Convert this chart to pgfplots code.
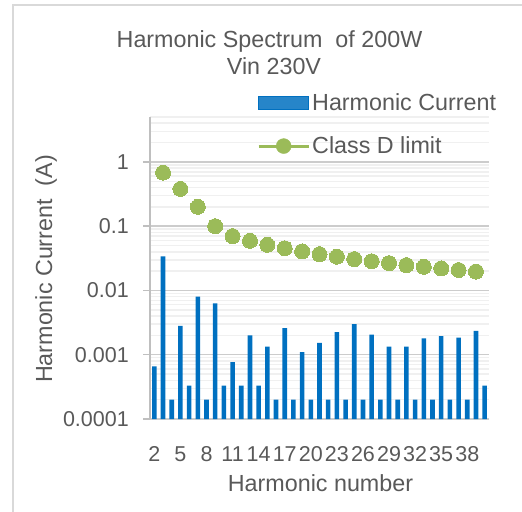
\documentclass[border=0pt]{standalone}
\usepackage{pgfplots}
\pgfplotsset{compat=1.18}
\usepackage{fontspec}
\setmainfont{Liberation Sans}
\definecolor{barblue}{HTML}{0070C0}
\definecolor{limgreen}{HTML}{9BBB59}
\definecolor{txt}{HTML}{595959}
\definecolor{frame}{HTML}{D9D9D9}
\pgfplotstableread{
h v
2 0.00066
3 0.034
4 0.0002
5 0.0028
6 0.00033
7 0.0080
8 0.0002
9 0.0063
10 0.00033
11 0.00077
12 0.00033
13 0.0020
14 0.00033
15 0.00134
16 0.0002
17 0.0026
18 0.0002
19 0.0011
20 0.0002
21 0.00153
22 0.0002
23 0.00225
24 0.0002
25 0.0030
26 0.0002
27 0.00205
28 0.0002
29 0.00134
30 0.0002
31 0.00134
32 0.0002
33 0.0018
34 0.0002
35 0.00195
36 0.0002
37 0.00185
38 0.0002
39 0.00236
40 0.00033
}\harm
\pgfplotstableread{
h v
3 0.68
5 0.38
7 0.20
9 0.10
11 0.07
13 0.0592
15 0.0513
17 0.0453
19 0.0405
21 0.0367
23 0.0335
25 0.0308
27 0.0285
29 0.0266
31 0.0248
33 0.0233
35 0.0220
37 0.0208
39 0.0197
}\limit
\begin{document}
\begin{tikzpicture}
\path[use as bounding box] (0bp,0bp) rectangle (522bp,512bp);
\draw[frame, line width=1.5bp] (13bp,0bp) -- (13bp,507bp) -- (522bp,507bp);
\tikzset{lab/.style={text=txt, inner sep=0pt, font=\fontsize{23.3bp}{28bp}\selectfont}}
\node[lab, anchor=base] at (269.5bp,464bp) {Harmonic Spectrum\ \ of 200W};
\node[lab, anchor=base] at (274bp,437bp) {Vin 230V};
\node[lab, anchor=base, rotate=90] at (52bp,243bp) {Harmonic Current\ \ (A)};
\node[lab, anchor=base] at (320.5bp,20.3bp) {Harmonic number};
\begin{axis}[
  at={(150bp,93bp)}, anchor=south west,
  scale only axis, width=339bp, height=302bp,
  ymode=log, ymin=1e-4, ymax=5, log origin y=infty,
  xmin=1.5, xmax=40.5,
  xtick={2,5,8,11,14,17,20,23,26,29,32,35,38},
  xticklabels={2,5,8,11,14,17,20,23,26,29,32,35,38},
  ytick={1e-4,1e-3,1e-2,1e-1,1},
  yticklabels={0.0001,0.001,0.01,0.1,1},
  minor ytick={2e-4,3e-4,4e-4,5e-4,6e-4,7e-4,8e-4,9e-4,
    2e-3,3e-3,4e-3,5e-3,6e-3,7e-3,8e-3,9e-3,
    2e-2,3e-2,4e-2,5e-2,6e-2,7e-2,8e-2,9e-2,
    0.2,0.3,0.4,0.5,0.6,0.7,0.8,0.9,2,3,4,5},
  ymajorgrids, yminorgrids,
  major grid style={color=gray!40, line width=1.5bp},
  minor grid style={color=gray!12, line width=1.5bp},
  axis x line*=bottom, axis y line*=left,
  x axis line style={draw=none},
  y axis line style={color=gray!50, line width=1.5bp},
  tick align=outside,
  major tick length=7bp, minor tick length=0pt,
  xtick style={draw=none},
  ytick style={color=gray!50, line width=1.5bp},
  ticklabel style={text=txt, font=\fontsize{21.5bp}{25bp}\selectfont},
  xticklabel style={anchor=base, yshift=-36bp},
  yticklabel style={anchor=east, inner sep=0pt, xshift=-14bp},
  clip=false,
  legend style={draw=none, fill=none, at={(axis description cs:0.3156,1.085)}, anchor=north west,
    font=\fontsize{23.3bp}{28bp}\selectfont, text=txt, row sep=21bp, inner sep=0pt},
  legend cell align=left,
]
\addplot[ybar, bar width=4.6bp, fill=barblue, draw=none,
  legend image code/.code={\draw[fill=barblue!85!white, draw=barblue, line width=1bp] (0bp,-6.5bp) rectangle (50bp,6.5bp);}]
  table[x=h, y=v] {\harm};
\addlegendentry{Harmonic Current}
\addplot[only marks, mark=*, mark size=7.5bp, mark options={fill=limgreen, draw=limgreen, line width=0pt},
  legend image code/.code={\draw[limgreen, line width=3bp] (0bp,0bp) -- (50bp,0bp); \fill[limgreen] (25bp,0bp) circle (7.5bp);}]
  table[x=h, y=v] {\limit};
\addlegendentry{Class D limit}
\end{axis}
\end{tikzpicture}
\end{document}
